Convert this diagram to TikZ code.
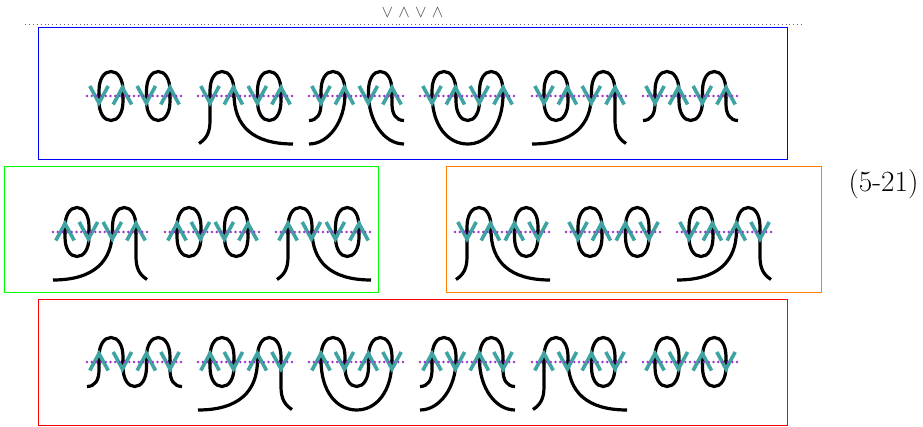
\documentclass[tikz,border=0pt]{standalone}
\usepackage{xcolor}
\usepackage{tikz}
\definecolor{knotteal}{HTML}{3FA3A3}
\definecolor{knotpurple}{HTML}{9933CC}
\tikzset{
  strand/.style={line width=3.2pt, black, line cap=butt},
  tealmark/.style={line width=3.6pt, knotteal, line join=miter},
  midline/.style={line width=2.6pt, knotpurple, line cap=round, dash pattern=on 0pt off 4.7pt},
  rowbox/.style={line width=1.1pt},
  capAB/.pic={\draw[strand] (12,2) -- (12,-5) .. controls (12,-17) and (17,-24.5) .. (24,-24.5) .. controls (31,-24.5) and (36,-17) .. (36,-5) -- (36,2);},
  capCD/.pic={\draw[strand] (59.5,2) -- (59.5,-5) .. controls (59.5,-17) and (64.5,-24.5) .. (71.3,-24.5) .. controls (78,-24.5) and (83,-17) .. (83,-5) -- (83,2);},
  cupAB/.pic={\draw[strand] (12,-2) -- (12,5) .. controls (12,17) and (17,24.5) .. (24,24.5) .. controls (31,24.5) and (36,17) .. (36,5) -- (36,-2);},
  cupCD/.pic={\draw[strand] (59.5,-2) -- (59.5,5) .. controls (59.5,17) and (64.5,24.5) .. (71.3,24.5) .. controls (78,24.5) and (83,17) .. (83,5) -- (83,-2);},
  cupBC/.pic={\draw[strand] (36,-2) -- (36,5) .. controls (36,17) and (41,24.5) .. (47.7,24.5) .. controls (54.5,24.5) and (59.5,17) .. (59.5,5) -- (59.5,-2);},
  cupAD/.pic={\draw[strand] (12,-2) .. controls (12,30) and (28,48) .. (47.7,48) .. controls (67,48) and (83,30) .. (83,-2);},
  hookA/.pic={\draw[strand] (12,-2) -- (12,8) .. controls (12,18) and (8,24.5) .. (0,24.5);},
  hookD/.pic={\draw[strand] (83,-2) -- (83,8) .. controls (83,18) and (87,24.5) .. (95,24.5);},
  sweepB/.pic={\draw[strand] (36,-2) .. controls (36,25) and (20,48) .. (0,48);},
  sweepC/.pic={\draw[strand] (59.5,-2) .. controls (59.5,25) and (75,48) .. (95,48);},
  longB/.pic={\draw[strand] (36,-2) .. controls (36,30) and (55,48) .. (95,48);},
  longC/.pic={\draw[strand] (59.5,-2) .. controls (59.5,30) and (40,48) .. (0,48);},
  dropA/.pic={\draw[strand] (12,-2) -- (12,25) .. controls (12,37) and (8,43) .. (1,47.5);},
  dropD/.pic={\draw[strand] (83,-2) -- (83,25) .. controls (83,37) and (87,43) .. (94,47.5);},
  % the six closings of a knot
  t1/.pic={\pic{cupAB}; \pic{cupCD};},
  t2/.pic={\pic{dropA}; \pic{longB}; \pic{cupCD};},
  t3/.pic={\pic{hookA}; \pic{sweepB}; \pic{sweepC}; \pic{hookD};},
  t4/.pic={\pic{cupAD}; \pic{cupBC};},
  t5/.pic={\pic{cupAB}; \pic{longC}; \pic{dropD};},
  t6/.pic={\pic{hookA}; \pic{cupBC}; \pic{hookD};},
  signV/.pic={\draw[tealmark] (-9.2,-10) -- (0,7) -- (9.2,-10);},
  signW/.pic={\draw[tealmark] (-9.2,8.5) -- (0,-8.5) -- (9.2,8.5);},
}
% one row: y, four signs, list of x/closing
\newcommand{\knotrow}[6]{
  \foreach \kx/\kt in {#6}{
    \begin{scope}[shift={(\kx,#1)}]
      \pic{\kt};
      \pic{capAB};
      \pic{capCD};
      \pic at (12,0) {sign#2};
      \pic at (35.4,0) {sign#3};
      \pic at (59.3,0) {sign#4};
      \pic at (83,0) {sign#5};
      \draw[midline] (0,0) -- (94,0);
    \end{scope}
  }
}
\begin{document}
\begin{tikzpicture}[x=1pt, y=-1pt]
  \useasboundingbox (0,0) rectangle (923,427);

  \node[inner sep=0pt, font=\fontsize{29.3}{32}\selectfont] (tag) at (883.5,184) {(5-21)};
  \node[inner sep=0pt, text=black!70, font=\fontsize{18}{20}\selectfont] (signs) at (412.5,13) {$\mathord{\vee}\hspace{5.3pt}\mathord{\wedge}\hspace{5.3pt}\mathord{\vee}\hspace{5.3pt}\mathord{\wedge}$};

  \coordinate (ruleL) at (25,24);
  \coordinate (ruleR) at (802,24);
  \draw[black!60, line width=.7pt, dash pattern=on .7pt off 3.2pt] (ruleL) -- (ruleR);

  \draw[rowbox, blue] (38.5,27.5) rectangle (787.5,159.5);
  \draw[rowbox, green] (4.5,166.5) rectangle (378.5,292.5);
  \draw[rowbox, orange] (446.5,166.5) rectangle (821.5,292.5);
  \draw[rowbox, red] (38.5,299.5) rectangle (787.5,425.5);

  \knotrow{96}{V}{W}{V}{W}{87/t1, 198/t2, 309/t3, 420/t4, 532/t5, 643/t6}
  \knotrow{232}{W}{V}{V}{W}{53/t5, 165/t1, 276/t2}
  \knotrow{232}{V}{W}{W}{V}{455/t2, 566/t1, 677/t5}
  \knotrow{362}{W}{V}{W}{V}{87/t6, 198/t5, 309/t4, 420/t3, 532/t2, 643/t1}
\end{tikzpicture}
\end{document}
